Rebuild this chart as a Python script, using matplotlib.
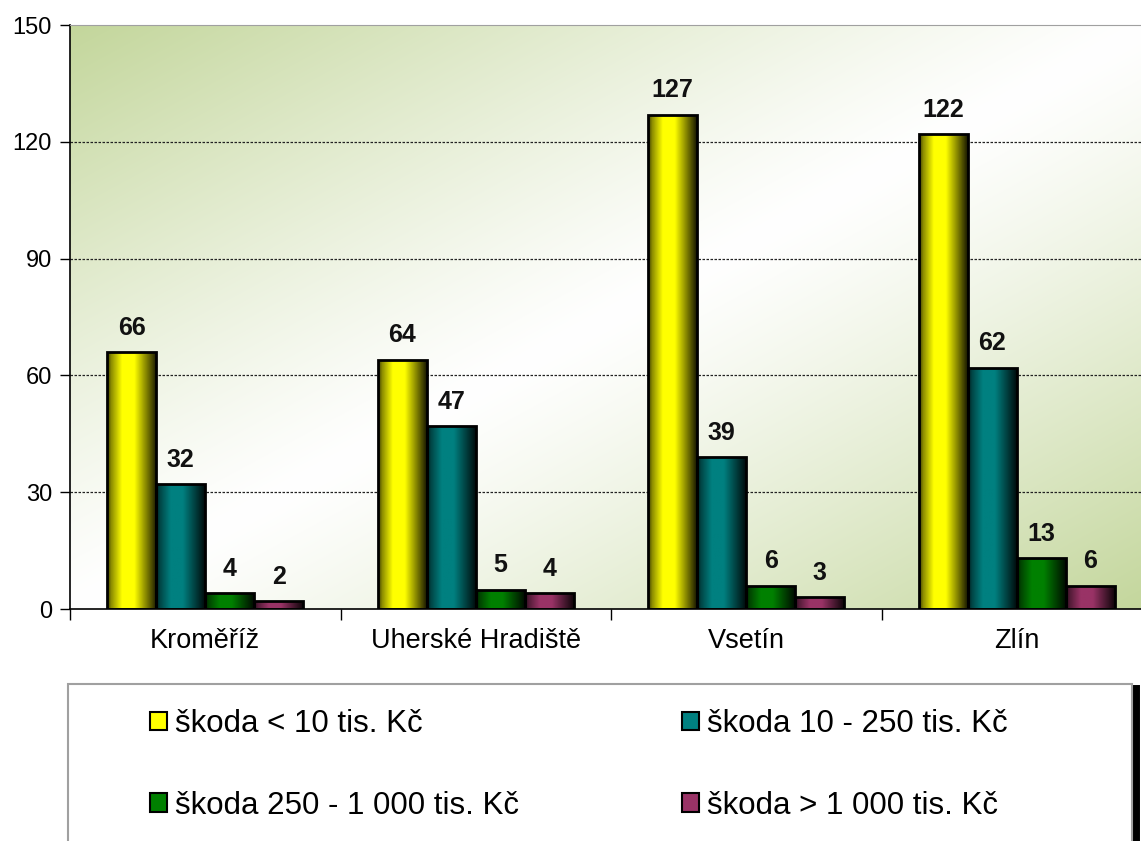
import numpy as np
import matplotlib.pyplot as plt
from matplotlib.patches import Rectangle
from matplotlib.lines import Line2D
from matplotlib.colors import to_rgb

plt.rcParams['font.family'] = ['Liberation Sans', 'DejaVu Sans']

# data
districts = ["Kroměříž", "Uherské Hradiště", "Vsetín", "Zlín"]
series_names = ["škoda < 10 tis. Kč", "škoda 10 - 250 tis. Kč",
                "škoda 250 - 1 000 tis. Kč", "škoda > 1 000 tis. Kč"]
dmg_small = [66, 64, 127, 122]
dmg_mid = [32, 47, 39, 62]
dmg_large = [4, 5, 6, 13]
dmg_huge = [2, 4, 3, 6]
series = [dmg_small, dmg_mid, dmg_large, dmg_huge]
colors = ["#ffff00", "#008080", "#008000", "#993366"]
yticks = [0, 30, 60, 90, 120, 150]

W, H = 1141, 841
fig = plt.figure(figsize=(W / 100, H / 100), dpi=100)
fig.patch.set_facecolor("white")
# plot area runs a bit past the right edge of the picture
ax = fig.add_axes([70 / W, (H - 609) / H, (1152 - 70) / W, (609 - 25) / H])

# background: green in top-left and bottom-right corners, white across the middle
u = np.linspace(0, 1, 300)
v = np.linspace(0, 1, 300)
U, V = np.meshgrid(u, v)
s = (U + V) / 2
k = np.clip(np.abs(s - 0.5) * 2, 0, 1) ** 1.2
green = np.array(to_rgb("#c3d69b"))
bg = (1 - k[..., None]) * np.ones(3) + k[..., None] * green
ax.imshow(bg, extent=(0, 1, 0, 1), transform=ax.transAxes, aspect="auto",
          origin="upper", zorder=0, interpolation="bilinear")

# bars with a horizontal shading
w = 49 / 270.5
offsets = [-1.5, -0.5, 0.5, 1.5]
x = np.arange(len(districts))
tt = np.linspace(0, 1, 64)
shade = np.interp(tt, [0, 0.08, 0.3, 0.55, 1.0], [0.25, 0.55, 1.0, 1.0, 0.1])

for vals, col, off in zip(series, colors, offsets):
    bars = ax.bar(x + off * w, vals, width=w, facecolor="none",
                  edgecolor="black", linewidth=2, zorder=3)
    base = np.array(to_rgb(col))
    grad = (shade[:, None] * base)[None, :, :]
    for b, val in zip(bars, vals):
        x0 = b.get_x()
        im = ax.imshow(grad, extent=(x0, x0 + w, 0, val), aspect="auto",
                       zorder=2.5, interpolation="bilinear")
        im.set_clip_path(b)
        ax.annotate(str(val), (x0 + w / 2, val), xytext=(0, 9),
                    textcoords="offset points", ha="center", va="bottom",
                    fontsize=18, fontweight="bold", color="#111111")

ax.set_xlim(-0.5, 3.5)
ax.set_ylim(0, 150)
ax.set_yticks(yticks)
ax.tick_params(axis="y", labelsize=17, length=7, width=1, pad=6, direction="out")
for yv in yticks[1:-1]:
    ax.axhline(yv, color="#222222", lw=0.9, ls=(0, (2, 1.2)), zorder=1)

ax.set_xticks(x)
ax.set_xticklabels(districts, fontsize=19.5)
ax.tick_params(axis="x", length=0, pad=14)
ax.set_xticks(np.arange(-0.5, 4, 1), minor=True)
ax.tick_params(axis="x", which="minor", length=8, width=1, direction="out")

ax.spines["top"].set_color("#a0a0a0")
ax.spines["right"].set_visible(False)
ax.spines["left"].set_linewidth(1.2)
ax.spines["bottom"].set_linewidth(1.2)

# legend box
fig.patches.append(Rectangle((68 / W, -0.05), (1132 - 68) / W, (H - 684) / H + 0.05,
                             transform=fig.transFigure, facecolor="white",
                             edgecolor="#a0a0a0", lw=1.5))
fig.lines.append(Line2D([1136 / W, 1136 / W], [(H - 688) / H, 0],
                        transform=fig.transFigure, color="black", lw=5))

handles = [Rectangle((0, 0), 1, 1, facecolor=c, edgecolor="black", lw=1.5) for c in colors]
order = [0, 2, 1, 3]  # legend fills columns first, so reorder to read across rows
leg = fig.legend([handles[i] for i in order], [series_names[i] for i in order],
                 ncol=2, loc="upper left",
                 bbox_to_anchor=(150 / W, (H - 709) / H), frameon=False,
                 borderpad=0, borderaxespad=0,
                 fontsize=22.5, handlelength=0.55, handleheight=0.55,
                 handletextpad=0.25, columnspacing=5.22, labelspacing=1.66)

fig.savefig("out.png", dpi=100)
